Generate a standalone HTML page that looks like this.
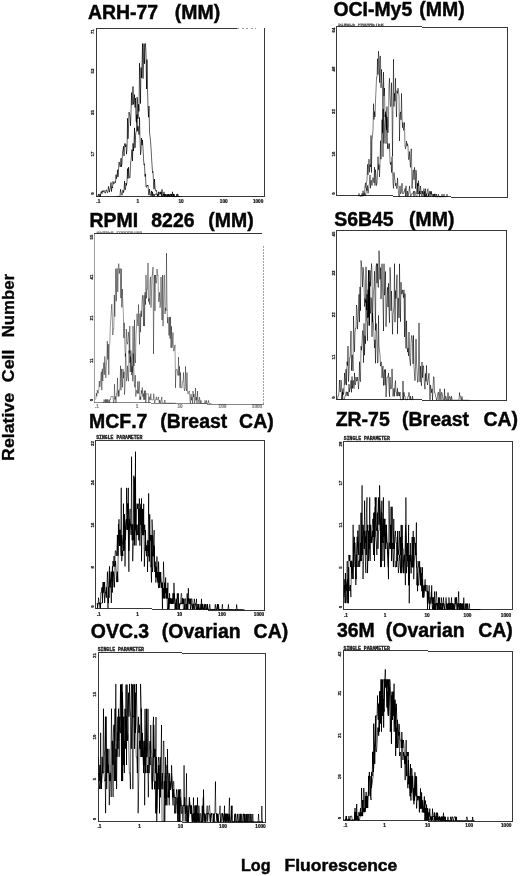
<!DOCTYPE html>
<html lang="en"><head><meta charset="utf-8"><title>Flow cytometry histograms</title>
<style>
html,body{margin:0;padding:0;background:#fff;}
body{width:520px;height:876px;overflow:hidden;}
svg{display:block;}
text{white-space:pre;font-kerning:none;}
</style></head><body>
<svg width="520" height="876" viewBox="0 0 520 876">
<g id="frames" fill="none" shape-rendering="crispEdges">
<path d="M96.5,28.0V197.0" stroke="#383838" stroke-width="1" opacity="1"/>
<path d="M264.5,28.0V197.0" stroke="#383838" stroke-width="1" opacity="1"/>
<path d="M96.0,28.5H237.0" stroke="#383838" stroke-width="1" opacity="1"/>
<path d="M96.0,196.5H265.0" stroke="#383838" stroke-width="1" opacity="1"/>
<path d="M237,28.5H256" stroke="#555" stroke-width="1" stroke-dasharray="2 2.5" opacity="0.6"/>
<path d="M336.5,26.0V196.0" stroke="#383838" stroke-width="1" opacity="1"/>
<path d="M507.5,27.0V198.0" stroke="#383838" stroke-width="1" opacity="1"/>
<path d="M336.0,26.5H422.0M422.0,27.5H508.0" stroke="#383838" stroke-width="1" opacity="1"/>
<path d="M336.0,195.5H393.3M393.3,196.5H450.7M450.7,197.5H508.0" stroke="#383838" stroke-width="1" opacity="1"/>
<path d="M94.5,233.0V403.0" stroke="#888" stroke-width="1" opacity="0.8"/>
<path d="M263.5,246.0V405.0" stroke="#888" stroke-width="1" opacity="0.8" stroke-dasharray="1.5 1.5"/>
<path d="M94.0,233.5H262.0" stroke="#333" stroke-width="1" opacity="1"/>
<path d="M94.0,402.5H150.7M150.7,403.5H207.3M207.3,404.5H264.0" stroke="#777" stroke-width="1" opacity="0.9"/>
<path d="M336.5,230.0V400.0" stroke="#383838" stroke-width="1" opacity="1"/>
<path d="M506.5,230.0V401.0" stroke="#383838" stroke-width="1" opacity="1"/>
<path d="M336.0,230.5H507.0" stroke="#383838" stroke-width="1" opacity="1"/>
<path d="M336.0,399.5H421.5M421.5,400.5H507.0" stroke="#383838" stroke-width="1" opacity="1"/>
<path d="M95.5,440.0V609.0" stroke="#383838" stroke-width="1" opacity="1"/>
<path d="M264.5,440.0V611.0" stroke="#383838" stroke-width="1" opacity="1"/>
<path d="M95.0,440.5H265.0" stroke="#383838" stroke-width="1" opacity="1"/>
<path d="M95.0,608.5H151.7M151.7,609.5H208.3M208.3,610.5H265.0" stroke="#383838" stroke-width="1" opacity="1"/>
<path d="M343.5,441.0V610.0" stroke="#383838" stroke-width="1" opacity="1"/>
<path d="M512.5,441.0V610.0" stroke="#383838" stroke-width="1" opacity="1"/>
<path d="M343.0,441.5H513.0" stroke="#383838" stroke-width="1" opacity="1"/>
<path d="M343.0,609.5H513.0" stroke="#383838" stroke-width="1" opacity="1"/>
<path d="M98.5,652.0V822.0" stroke="#383838" stroke-width="1" opacity="1"/>
<path d="M265.5,653.0V823.0" stroke="#383838" stroke-width="1" opacity="1"/>
<path d="M98.0,652.5H182.0M182.0,653.5H266.0" stroke="#383838" stroke-width="1" opacity="1"/>
<path d="M98.0,821.5H182.0M182.0,822.5H266.0" stroke="#383838" stroke-width="1" opacity="1"/>
<path d="M343.5,650.0V821.0" stroke="#383838" stroke-width="1" opacity="1"/>
<path d="M512.5,651.0V822.0" stroke="#383838" stroke-width="1" opacity="1"/>
<path d="M343.0,650.5H428.0M428.0,651.5H513.0" stroke="#383838" stroke-width="1" opacity="1"/>
<path d="M343.0,820.5H428.0M428.0,821.5H513.0" stroke="#383838" stroke-width="1" opacity="1"/>
</g>
<filter id="ctA" x="0" y="0" width="100%" height="100%" filterUnits="userSpaceOnUse"><feComponentTransfer><feFuncA type="linear" slope="1.25" intercept="-0.03"/></feComponentTransfer></filter>
<filter id="ct" x="0" y="0" width="100%" height="100%" filterUnits="userSpaceOnUse"><feComponentTransfer><feFuncA type="linear" slope="1.9" intercept="-0.06"/></feComponentTransfer></filter>
<g id="histsA" fill="none" stroke-linejoin="miter" filter="url(#ctA)">
<path d="M97.00,196.3L97.50,196.3L98.00,196.3L98.50,193.9L99.00,196.3L99.50,196.3L100.00,193.9L100.50,196.3L101.00,191.6L101.50,191.6L102.00,193.7L102.50,190.6L103.00,192.0L103.50,191.9L104.00,190.3L104.50,191.8L105.00,193.2L105.50,193.1L106.00,190.0L106.50,189.9L107.00,191.3L107.50,192.8L108.00,191.2L108.50,186.4L109.00,189.3L109.50,192.2L110.00,188.9L110.50,187.2L111.00,182.4L111.50,191.5L112.00,186.7L112.50,187.9L113.00,181.4L113.50,184.1L114.00,183.8L114.50,183.4L115.00,181.5L115.50,182.7L116.00,174.7L116.50,178.7L117.00,176.5L117.50,169.8L118.00,176.9L118.50,170.2L119.00,161.9L119.50,162.9L120.00,167.0L120.50,166.5L121.00,158.2L121.50,166.9L122.00,163.3L122.50,152.0L123.00,149.9L123.50,146.3L124.00,156.1L124.50,144.3L125.00,143.3L125.50,146.9L126.00,144.4L126.50,154.2L127.00,148.6L127.50,118.3L128.00,138.8L128.50,128.5L129.00,112.1L129.50,114.1L130.00,116.1L130.50,125.8L131.00,112.5L131.50,92.6L132.00,105.1L132.50,100.6L133.00,86.4L133.50,104.4L134.00,101.8L134.50,94.6L135.00,107.5L135.50,98.1L136.00,121.0L136.50,122.4L137.00,114.6L137.50,131.2L138.00,126.2L138.50,130.4L139.00,134.7L139.50,117.4L140.00,138.5L140.50,154.8L141.00,151.1L141.50,138.1L142.00,145.1L142.50,139.9L143.00,148.4L143.50,158.5L144.00,164.9L144.50,163.8L145.00,176.5L145.50,173.9L146.00,186.6L146.50,187.4L147.00,185.1L147.50,185.9L148.00,185.1L148.50,193.5L149.00,195.2L149.50,189.1L150.00,193.8L150.50,195.4L151.00,195.4L151.50,190.9L152.00,196.5L152.50,191.8L153.00,196.5L153.50,194.1L154.00,194.1L154.50,196.5L155.00,194.1L155.50,194.1L156.00,194.1L156.50,194.1L157.00,194.2L157.50,196.5L158.00,194.2L158.50,194.2L159.00,196.5L159.50,196.5L160.00,196.5L160.50,196.5L161.00,196.5L161.50,196.5L162.00,196.5L162.50,196.5L163.00,196.5L163.50,194.2L164.00,194.2L164.50,196.5L165.00,196.5L165.50,194.2L166.00,194.2L166.50,196.6L167.00,196.6L167.50,196.6L168.00,196.6L168.50,194.2L169.00,196.6L169.50,196.6L170.00,194.2L170.50,194.2L171.00,194.2L171.50,196.6L172.00,196.6L172.50,196.6L173.00,196.6L173.50,196.6L174.00,194.2L174.50,196.6L175.00,196.6L175.50,196.6L176.00,196.6L176.50,196.6L177.00,194.2L177.50,194.2L178.00,194.2L178.50,196.6L179.00,196.6L179.50,196.6" stroke="#000" stroke-width="0.55" opacity="1"/>
<path d="M116.00,196.4L116.50,196.4L117.00,196.4L117.50,196.4L118.00,196.4L118.50,196.4L119.00,196.4L119.50,196.4L120.00,196.4L120.50,189.3L121.00,191.7L121.50,194.0L122.00,195.3L122.50,193.4L123.00,189.9L123.50,192.6L124.00,190.7L124.50,181.1L125.00,189.9L125.50,189.5L126.00,183.0L126.50,185.4L127.00,181.6L127.50,168.6L128.00,178.6L128.50,167.2L129.00,175.7L129.50,178.1L130.00,177.4L130.50,164.3L131.00,160.4L131.50,155.0L132.00,149.5L132.50,161.0L133.00,143.3L133.50,151.0L134.00,143.3L134.50,127.9L135.00,147.9L135.50,135.6L136.00,132.5L136.50,131.0L137.00,97.1L137.50,98.7L138.00,118.7L138.50,104.3L139.00,111.4L139.50,63.2L140.00,79.5L140.50,103.6L141.00,67.6L141.50,77.8L142.00,63.4L142.50,43.5L143.00,78.6L143.50,57.5L144.00,43.5L144.50,63.8L145.00,45.1L145.50,43.5L146.00,52.4L146.50,89.0L147.00,59.5L147.50,85.4L148.00,108.2L148.50,117.2L149.00,106.1L149.50,131.9L150.00,136.2L150.50,140.5L151.00,147.8L151.50,156.4L152.00,164.5L152.50,172.6L153.00,171.5L153.50,182.7L154.00,189.2L154.50,179.0L155.00,187.2L155.50,190.8L156.00,191.3L156.50,190.3L157.00,193.9L157.50,195.5L158.00,196.5L158.50,191.8L159.00,194.2L159.50,194.2L160.00,191.8L160.50,194.2L161.00,191.8L161.50,196.5L162.00,189.4L162.50,196.5L163.00,196.5L163.50,196.5L164.00,191.8L164.50,196.5L165.00,194.2L165.50,196.5L166.00,196.5L166.50,196.6L167.00,194.2L167.50,196.6L168.00,194.2L168.50,196.6L169.00,196.6L169.50,196.6L170.00,194.2L170.50,196.6L171.00,196.6L171.50,194.2L172.00,196.6L172.50,191.8L173.00,196.6L173.50,194.2L174.00,194.2L174.50,196.6L175.00,196.6L175.50,196.6L176.00,196.6L176.50,196.6L177.00,194.2L177.50,196.6L178.00,196.6L178.50,196.6L179.00,196.6L179.50,196.6L180.00,196.6L180.50,196.6L181.00,196.6L181.50,196.6" stroke="#000" stroke-width="0.55" opacity="1"/>
<path d="M358.00,196.0L358.50,196.0L359.00,193.4L359.50,196.0L360.00,196.0L360.50,196.0L361.00,196.0L361.50,196.0L362.00,193.4L362.50,196.0L363.00,190.7L363.50,193.4L364.00,196.0L364.50,193.4L365.00,185.5L365.50,182.8L366.00,188.1L366.50,182.9L367.00,180.2L367.50,164.4L368.00,174.9L368.50,167.0L369.00,159.1L369.50,172.3L370.00,164.4L370.50,167.0L371.00,135.4L371.50,172.6L372.00,140.7L372.50,135.4L373.00,130.1L373.50,103.7L374.00,119.5L374.50,111.6L375.00,116.9L375.50,101.1L376.00,90.5L376.50,77.3L377.00,77.3L377.50,58.8L378.00,74.7L378.50,51.2L379.00,58.9L379.50,82.6L380.00,56.2L380.50,56.2L381.00,87.9L381.50,69.4L382.00,82.7L382.50,87.9L383.00,156.8L383.50,72.1L384.00,95.9L384.50,88.0L385.00,117.0L385.50,111.7L386.00,143.7L386.50,114.4L387.00,106.5L387.50,148.7L388.00,143.4L388.50,148.7L389.00,148.7L389.50,143.5L390.00,161.9L390.50,164.6L391.00,161.9L391.50,172.5L392.00,156.7L392.50,167.2L393.00,183.1L393.50,188.4L394.00,172.5L394.50,177.8L395.00,180.5L395.50,185.8L396.00,183.1L396.50,188.4L397.00,188.4L397.50,177.9L398.00,185.8L398.50,193.7L399.00,196.3L399.50,196.4L400.00,185.8L400.50,193.7L401.00,193.7L401.50,191.1L402.00,183.2L402.50,193.7L403.00,193.7L403.50,193.7L404.00,191.1L404.50,191.1L405.00,188.5L405.50,196.4L406.00,185.8L406.50,193.8L407.00,196.4L407.50,191.1L408.00,196.4L408.50,193.8L409.00,191.2L409.50,185.9L410.00,191.2L410.50,196.4L411.00,196.5L411.50,193.8L412.00,193.8L412.50,193.8L413.00,193.8L413.50,191.2L414.00,196.5L414.50,191.2L415.00,191.2L415.50,193.9L416.00,196.5L416.50,196.5L417.00,196.5L417.50,188.6L418.00,183.3L418.50,193.9L419.00,193.9L419.50,191.2L420.00,193.9L420.50,193.9L421.00,191.3L421.50,193.9L422.00,196.6L422.50,191.3L423.00,193.9L423.50,191.3L424.00,188.6L424.50,196.6L425.00,193.9L425.50,196.6L426.00,196.6L426.50,193.9L427.00,196.6L427.50,196.6L428.00,196.6L428.50,194.0L429.00,194.0L429.50,191.3L430.00,194.0L430.50,194.0L431.00,191.3L431.50,194.0L432.00,196.6L432.50,196.6L433.00,196.6L433.50,194.0L434.00,196.7L434.50,194.0L435.00,196.7L435.50,196.7L436.00,196.7L436.50,196.7L437.00,196.7L437.50,196.7L438.00,196.7L438.50,196.7L439.00,196.7L439.50,196.7L440.00,196.7L440.50,196.7L441.00,196.7L441.50,196.7L442.00,196.7L442.50,196.7L443.00,196.7L443.50,196.7L444.00,196.7L444.50,196.7" stroke="#000" stroke-width="0.46" opacity="1"/>
<path d="M360.00,196.0L360.50,196.0L361.00,196.0L361.50,196.0L362.00,196.0L362.50,196.0L363.00,196.0L363.50,196.0L364.00,193.4L364.50,193.4L365.00,193.4L365.50,196.1L366.00,193.4L366.50,188.1L367.00,190.8L367.50,185.5L368.00,193.4L368.50,190.8L369.00,185.5L369.50,182.9L370.00,175.0L370.50,188.2L371.00,180.3L371.50,180.3L372.00,185.5L372.50,180.3L373.00,177.6L373.50,180.3L374.00,182.9L374.50,167.1L375.00,185.6L375.50,169.7L376.00,175.0L376.50,185.6L377.00,183.0L377.50,175.0L378.00,156.6L378.50,169.8L379.00,164.5L379.50,176.9L380.00,164.5L380.50,140.7L381.00,159.2L381.50,135.5L382.00,119.6L382.50,132.8L383.00,109.1L383.50,109.1L384.00,143.4L384.50,127.6L385.00,119.6L385.50,114.4L386.00,114.4L386.50,130.2L387.00,117.0L387.50,127.6L388.00,132.9L388.50,125.0L389.00,85.4L389.50,78.3L390.00,95.9L390.50,106.5L391.00,106.5L391.50,82.7L392.00,109.1L392.50,156.5L393.00,109.2L393.50,59.3L394.00,106.5L394.50,93.3L395.00,101.2L395.50,78.3L396.00,101.3L396.50,117.1L397.00,90.7L397.50,93.4L398.00,88.1L398.50,90.7L399.00,96.0L399.50,140.9L400.00,114.5L400.50,111.9L401.00,119.8L401.50,93.4L402.00,117.2L402.50,127.7L403.00,122.4L403.50,130.4L404.00,127.7L404.50,122.5L405.00,146.2L405.50,148.9L406.00,146.2L406.50,141.0L407.00,146.2L407.50,143.6L408.00,146.3L408.50,159.5L409.00,159.5L409.50,151.5L410.00,162.1L410.50,167.4L411.00,148.9L411.50,148.9L412.00,188.5L412.50,180.6L413.00,170.1L413.50,170.1L414.00,179.8L414.50,167.4L415.00,172.7L415.50,188.6L416.00,170.1L416.50,175.4L417.00,193.9L417.50,183.3L418.00,186.0L418.50,180.7L419.00,186.0L419.50,196.5L420.00,191.3L420.50,186.0L421.00,191.3L421.50,191.3L422.00,191.3L422.50,191.3L423.00,193.9L423.50,193.9L424.00,196.6L424.50,191.3L425.00,193.9L425.50,188.7L426.00,196.6L426.50,193.9L427.00,194.0L427.50,189.6L428.00,188.7L428.50,196.6L429.00,194.0L429.50,194.0L430.00,196.6L430.50,196.6L431.00,191.3L431.50,194.0L432.00,194.0L432.50,194.0L433.00,196.6L433.50,196.7L434.00,196.7L434.50,194.0L435.00,194.0L435.50,194.0L436.00,196.7L436.50,194.0L437.00,196.7L437.50,196.7L438.00,196.7L438.50,194.1L439.00,196.7L439.50,196.7L440.00,196.7L440.50,196.7L441.00,196.7L441.50,196.7L442.00,194.1L442.50,196.7L443.00,196.7L443.50,196.7L444.00,194.1L444.50,196.7L445.00,196.8L445.50,196.8L446.00,196.8L446.50,196.8L447.00,194.1L447.50,196.8" stroke="#000" stroke-width="0.46" opacity="1"/>
<path d="M95.30,399.3L95.80,399.3L96.30,393.2L96.80,396.3L97.30,390.1L97.80,393.2L98.30,393.2L98.80,390.1L99.30,380.9L99.80,387.1L100.30,384.0L100.80,377.9L101.30,371.7L101.80,390.2L102.30,368.7L102.80,381.0L103.30,371.8L103.80,362.5L104.30,374.8L104.80,356.4L105.30,365.6L105.80,377.9L106.30,365.6L106.80,359.5L107.30,341.1L107.80,359.5L108.30,344.1L108.80,374.9L109.30,347.2L109.80,344.2L110.30,325.7L110.80,319.6L111.30,310.4L111.80,304.2L112.30,316.5L112.80,335.0L113.30,328.8L113.80,328.8L114.30,295.0L114.80,316.6L115.30,295.0L115.80,268.6L116.30,301.2L116.80,268.6L117.30,268.6L117.80,292.0L118.30,268.6L118.80,263.6L119.30,273.6L119.80,268.6L120.30,268.6L120.80,298.2L121.30,268.7L121.80,307.4L122.30,289.0L122.80,301.3L123.30,313.6L123.80,338.1L124.30,322.8L124.80,344.3L125.30,356.6L125.80,353.5L126.30,329.0L126.80,341.2L127.30,344.3L127.80,341.3L128.30,332.0L128.80,338.2L129.30,353.6L129.80,325.9L130.30,372.0L130.80,350.5L131.30,353.6L131.80,372.0L132.30,365.9L132.80,381.3L133.30,353.6L133.80,365.9L134.30,384.3L134.80,387.4L135.30,375.1L135.80,396.6L136.30,390.5L136.80,390.5L137.30,393.6L137.80,381.3L138.30,393.6L138.80,387.5L139.30,381.3L139.80,399.8L140.30,396.7L140.80,399.8L141.30,390.5L141.80,393.6L142.30,387.5L142.80,396.7L143.30,393.6L143.80,399.8L144.30,390.6L144.80,399.8L145.30,390.6L145.80,402.9L146.30,393.7L146.80,393.7L147.30,393.7L147.80,393.7L148.30,393.7L148.80,402.9L149.30,396.8L149.80,399.8L150.30,399.9L150.80,393.7L151.30,399.9L151.80,399.9L152.30,399.9L152.80,399.9L153.30,399.9L153.80,393.7L154.30,399.9L154.80,403.0L155.30,399.9L155.80,399.9L156.30,396.8L156.80,399.9L157.30,399.9L157.80,399.9L158.30,396.9L158.80,399.9L159.30,403.0L159.80,399.9L160.30,403.0L160.80,403.0L161.30,400.0L161.80,396.9L162.30,403.0L162.80,403.0L163.30,403.0L163.80,403.1L164.30,403.1L164.80,400.0L165.30,403.1L165.80,403.1L166.30,403.1L166.80,403.1L167.30,403.1L167.80,403.1L168.30,403.1L168.80,403.1L169.30,403.1L169.80,403.1L170.30,403.1L170.80,403.1L171.30,403.1L171.80,403.1L172.30,403.1L172.80,403.1L173.30,403.1L173.80,403.1L174.30,403.2L174.80,403.2L175.30,403.2L175.80,403.2" stroke="#111" stroke-width="0.42" opacity="0.9"/>
<path d="M103.00,402.5L103.50,402.5L104.00,399.4L104.50,400.3L105.00,402.5L105.50,399.4L106.00,402.5L106.50,399.4L107.00,402.5L107.50,399.4L108.00,402.5L108.50,402.5L109.00,399.5L109.50,402.5L110.00,399.5L110.50,399.5L111.00,396.4L111.50,396.4L112.00,396.4L112.50,396.4L113.00,396.4L113.50,402.6L114.00,402.6L114.50,384.2L115.00,399.5L115.50,396.5L116.00,402.6L116.50,393.4L117.00,393.4L117.50,378.0L118.00,396.5L118.50,390.3L119.00,396.5L119.50,390.3L120.00,387.3L120.50,365.8L121.00,390.4L121.50,368.9L122.00,378.1L122.50,387.3L123.00,368.9L123.50,378.1L124.00,371.9L124.50,394.6L125.00,387.3L125.50,353.5L126.00,356.6L126.50,381.2L127.00,378.1L127.50,365.8L128.00,378.1L128.50,381.2L129.00,350.5L129.50,359.7L130.00,362.8L130.50,356.6L131.00,362.8L131.50,375.1L132.00,372.0L132.50,356.7L133.00,325.9L133.50,347.5L134.00,365.9L134.50,319.8L135.00,359.8L135.50,362.8L136.00,335.2L136.50,326.0L137.00,313.7L137.50,319.8L138.00,326.0L138.50,304.5L139.00,326.0L139.50,344.4L140.00,313.7L140.50,332.2L141.00,310.7L141.50,316.8L142.00,301.4L142.50,295.3L143.00,307.6L143.50,326.0L144.00,295.3L144.50,326.1L145.00,292.3L145.50,304.6L146.00,274.9L146.50,298.4L147.00,289.2L147.50,289.2L148.00,262.9L148.50,301.5L149.00,298.4L149.50,304.6L150.00,280.0L150.50,276.9L151.00,307.7L151.50,292.3L152.00,274.9L152.50,274.9L153.00,267.0L153.50,353.8L154.00,301.6L154.50,275.0L155.00,310.8L155.50,275.0L156.00,283.1L156.50,283.1L157.00,269.0L157.50,275.0L158.00,275.0L158.50,301.6L159.00,301.6L159.50,292.4L160.00,307.8L160.50,304.7L161.00,277.0L161.50,298.6L162.00,320.1L162.50,275.0L163.00,326.2L163.50,307.8L164.00,275.1L164.50,275.1L165.00,314.0L165.50,307.8L166.00,310.9L166.50,253.1L167.00,301.7L167.50,323.2L168.00,317.1L168.50,323.2L169.00,335.5L169.50,317.1L170.00,338.6L170.50,317.1L171.00,347.8L171.50,326.3L172.00,347.8L172.50,341.7L173.00,332.5L173.50,350.9L174.00,350.9L174.50,347.8L175.00,344.8L175.50,387.8L176.00,369.4L176.50,369.4L177.00,369.4L177.50,372.5L178.00,375.5L178.50,357.1L179.00,375.5L179.50,366.3L180.00,387.8L180.50,372.5L181.00,387.9L181.50,387.9L182.00,387.9L182.50,381.7L183.00,381.7L183.50,372.5L184.00,387.9L184.50,391.0L185.00,387.9L185.50,366.4L186.00,387.9L186.50,391.0L187.00,372.5L187.50,391.0L188.00,394.1L188.50,392.5L189.00,391.0L189.50,391.0L190.00,401.3L190.50,403.3L191.00,394.1L191.50,400.2L192.00,397.2L192.50,403.3L193.00,391.0L193.50,397.2L194.00,394.1L194.50,403.3L195.00,400.3L195.50,388.0L196.00,400.3L196.50,397.2L197.00,403.4L197.50,391.1L198.00,400.3L198.50,400.3L199.00,403.4L199.50,397.2L200.00,400.3L200.50,403.4L201.00,400.3L201.50,403.4L202.00,403.4L202.50,403.4L203.00,403.4L203.50,403.4L204.00,403.4L204.50,403.4L205.00,400.4L205.50,403.4L206.00,403.5L206.50,400.4L207.00,403.5L207.50,403.5L208.00,403.5L208.50,400.4L209.00,403.5L209.50,403.5L210.00,403.5L210.50,403.5L211.00,403.5L211.50,403.5" stroke="#111" stroke-width="0.42" opacity="0.9"/>
<path d="M337.00,399.4L337.50,399.4L338.00,395.7L338.50,395.7L339.00,391.8L339.50,380.0L340.00,391.9L340.50,391.9L341.00,380.1L341.50,384.1L342.00,399.4L342.50,392.2L343.00,388.4L343.50,394.7L344.00,391.7L344.50,372.9L345.00,384.8L345.50,380.9L346.00,369.2L346.50,385.1L347.00,361.6L347.50,365.6L348.00,346.0L348.50,381.6L349.00,373.8L349.50,358.2L350.00,358.3L350.50,346.6L351.00,331.0L351.50,370.6L352.00,355.0L352.50,355.1L353.00,371.1L353.50,316.0L354.00,335.9L354.50,351.8L355.00,332.2L355.50,328.4L356.00,328.6L356.50,305.0L357.00,309.1L357.50,329.1L358.00,321.4L358.50,309.9L359.00,294.3L359.50,322.1L360.00,286.8L360.50,310.7L361.00,260.5L361.50,263.5L362.00,271.4L362.50,287.1L363.00,267.3L363.50,271.2L364.00,282.9L364.50,306.5L365.00,298.5L365.50,302.4L366.00,266.8L366.50,310.1L367.00,294.2L367.50,317.8L368.00,290.1L368.50,270.3L369.00,325.5L369.50,282.0L370.00,309.5L370.50,313.4L371.00,297.5L371.50,301.4L372.00,336.8L372.50,313.0L373.00,320.7L373.50,324.5L374.00,336.2L374.50,347.9L375.00,339.8L375.50,363.3L376.00,323.8L376.50,323.7L377.00,339.3L377.50,362.9L378.00,362.8L378.50,315.4L379.00,346.8L379.50,350.7L380.00,354.5L380.50,366.2L381.00,362.2L381.50,362.2L382.00,377.9L382.50,369.9L383.00,365.9L383.50,385.5L384.00,372.4L384.50,369.6L385.00,385.3L385.50,369.5L386.00,397.0L386.50,389.1L387.00,377.2L387.50,377.1L388.00,377.1L388.50,373.1L389.00,388.8L389.50,396.6L390.00,376.9L390.50,388.7L391.00,388.6L391.50,388.6L392.00,368.8L392.50,380.6L393.00,396.4L393.50,392.4L394.00,388.4L394.50,396.3L395.00,384.4L395.50,380.5L396.00,392.3L396.50,392.3L397.00,396.2L397.50,388.3L398.00,396.1L398.50,392.2L399.00,392.2L399.50,396.1L400.00,392.1L400.50,399.8L401.00,399.8L401.50,399.8L402.00,399.8L402.50,399.8L403.00,381.0L403.50,399.8L404.00,392.3L404.50,396.0L405.00,396.0L405.50,399.8L406.00,399.8L406.50,399.8L407.00,399.8L407.50,399.8L408.00,396.1L408.50,396.1L409.00,392.3L409.50,396.1L410.00,399.8L410.50,396.1L411.00,399.8L411.50,399.8L412.00,399.8L412.50,396.1L413.00,399.8L413.50,399.9" stroke="#000" stroke-width="0.46" opacity="1"/>
<path d="M339.00,399.4L339.50,399.4L340.00,399.4L340.50,399.4L341.00,399.4L341.50,399.4L342.00,395.7L342.50,391.9L343.00,399.4L343.50,399.4L344.00,399.4L344.50,399.4L345.00,395.7L345.50,395.7L346.00,391.8L346.50,391.9L347.00,395.8L347.50,391.9L348.00,395.9L348.50,395.9L349.00,384.1L349.50,392.1L350.00,388.1L350.50,388.2L351.00,380.4L351.50,392.3L352.00,376.5L352.50,388.4L353.00,380.6L353.50,380.6L354.00,388.6L354.50,372.9L355.00,384.7L355.50,384.8L356.00,377.0L356.50,381.0L357.00,381.1L357.50,377.2L358.00,381.2L358.50,389.1L359.00,381.3L359.50,361.7L360.00,380.1L360.50,381.6L361.00,346.2L361.50,350.2L362.00,342.4L362.50,330.7L363.00,330.9L363.50,362.7L364.00,323.4L364.50,355.2L365.00,335.6L365.50,343.7L366.00,300.6L366.50,320.5L367.00,320.8L367.50,340.7L368.00,289.6L368.50,317.3L369.00,270.1L369.50,325.5L370.00,270.4L370.50,286.3L371.00,274.6L371.50,263.6L372.00,270.8L372.50,322.1L373.00,302.5L373.50,290.7L374.00,286.9L374.50,271.2L375.00,302.8L375.50,330.4L376.00,267.4L376.50,263.6L377.00,283.2L377.50,263.6L378.00,287.3L378.50,287.3L379.00,250.6L379.50,263.7L380.00,279.4L380.50,267.6L381.00,299.1L381.50,283.4L382.00,263.7L382.50,287.3L383.00,303.0L383.50,331.0L384.00,263.7L384.50,295.2L385.00,291.2L385.50,271.5L386.00,326.7L386.50,311.0L387.00,295.2L387.50,287.3L388.00,307.0L388.50,283.3L389.00,310.9L389.50,322.7L390.00,267.4L390.50,275.3L391.00,310.8L391.50,291.0L392.00,310.7L392.50,334.3L393.00,314.5L393.50,310.5L394.00,306.6L394.50,263.7L395.00,322.2L395.50,290.6L396.00,298.5L396.50,286.6L397.00,274.7L397.50,333.8L398.00,298.3L398.50,298.2L399.00,317.9L399.50,263.8L400.00,298.1L400.50,321.7L401.00,282.2L401.50,294.0L402.00,293.9L402.50,289.9L403.00,293.8L403.50,297.7L404.00,289.8L404.50,337.0L405.00,293.5L405.50,328.9L406.00,348.5L406.50,320.8L407.00,344.4L407.50,352.1L408.00,348.1L408.50,355.9L409.00,332.1L409.50,357.5L410.00,362.1L410.50,365.6L411.00,343.6L411.50,335.6L412.00,335.6L412.50,343.4L413.00,363.9L413.50,335.4L414.00,366.8L414.50,374.7L415.00,380.7L415.50,366.7L416.00,339.0L416.50,362.6L417.00,370.4L417.50,382.2L418.00,382.1L418.50,370.3L419.00,322.9L419.50,362.3L420.00,381.9L420.50,366.1L421.00,381.8L421.50,385.7L422.00,362.0L422.50,377.7L423.00,365.8L423.50,365.8L424.00,377.6L424.50,385.4L425.00,389.3L425.50,373.5L426.00,381.3L426.50,365.5L427.00,381.2L427.50,385.1L428.00,381.1L428.50,377.1L429.00,373.2L429.50,385.0L430.00,399.9L430.50,384.9L431.00,388.8L431.50,392.7L432.00,388.7L432.50,400.0L433.00,388.6L433.50,376.8L434.00,376.8L434.50,392.5L435.00,392.5L435.50,396.4L436.00,396.7L436.50,400.0L437.00,400.0L437.50,396.3L438.00,392.3L438.50,392.3L439.00,400.0L439.50,396.2L440.00,388.7L440.50,396.3L441.00,400.0L441.50,392.5L442.00,392.5L442.50,396.3L443.00,400.0L443.50,400.0L444.00,400.0L444.50,388.8L445.00,400.0L445.50,396.3L446.00,396.3L446.50,400.0L447.00,400.0L447.50,400.1L448.00,392.5L448.50,400.1L449.00,400.1L449.50,396.3L450.00,396.4L450.50,400.1L451.00,400.1L451.50,396.3L452.00,400.1L452.50,400.1L453.00,400.1L453.50,400.1L454.00,400.1L454.50,400.1L455.00,400.1L455.50,400.1L456.00,400.1L456.50,400.1L457.00,400.1L457.50,400.1L458.00,400.1L458.50,400.1L459.00,400.1L459.50,392.6L460.00,396.4L460.50,396.4L461.00,400.1L461.50,400.1L462.00,396.4L462.50,400.1L463.00,400.1L463.50,400.1L464.00,400.1L464.50,400.2L465.00,400.2L465.50,400.2L466.00,400.2L466.50,400.2L467.00,400.2L467.50,400.2L468.00,400.2L468.50,400.2L469.00,400.2L469.50,400.2" stroke="#000" stroke-width="0.46" opacity="1"/>
</g>
<g id="histsB" fill="none" stroke-linejoin="miter" filter="url(#ct)">
<path d="M96.40,608.2L96.95,608.2L97.50,608.2L98.05,603.0L98.60,597.7L99.15,603.0L99.70,603.0L100.25,608.2L100.80,592.5L101.35,592.5L101.90,587.3L102.45,603.0L103.00,587.3L103.55,582.0L104.10,587.3L104.65,582.0L105.20,592.5L105.75,592.6L106.30,597.8L106.85,587.3L107.40,571.6L107.95,587.3L108.50,603.1L109.05,571.6L109.60,566.3L110.15,587.4L110.70,582.1L111.25,571.6L111.80,582.1L112.35,592.6L112.90,561.1L113.45,566.4L114.00,555.9L114.55,566.4L115.10,566.4L115.65,561.2L116.20,571.7L116.75,582.2L117.30,571.7L117.85,582.2L118.40,524.4L118.95,534.9L119.50,545.5L120.05,529.7L120.60,550.7L121.15,556.0L121.70,535.0L122.25,540.2L122.80,545.5L123.35,550.7L123.90,524.5L124.45,529.8L125.00,566.5L125.55,540.3L126.10,524.5L126.65,487.8L127.20,529.8L127.75,514.0L128.30,487.8L128.85,550.8L129.40,519.3L129.95,524.6L130.50,524.6L131.05,535.1L131.60,456.6L132.15,540.3L132.70,524.6L133.25,540.3L133.80,475.6L134.35,545.6L134.90,514.1L135.45,451.6L136.00,545.6L136.55,508.9L137.10,503.6L137.65,508.9L138.20,503.7L138.75,540.4L139.30,498.4L139.85,508.9L140.40,508.9L140.95,524.7L141.50,498.4L142.05,529.9L142.60,535.2L143.15,514.2L143.70,535.2L144.25,530.0L144.80,524.7L145.35,535.2L145.90,551.0L146.45,545.7L147.00,551.0L147.55,540.5L148.10,540.5L148.65,556.3L149.20,556.3L149.75,514.3L150.30,540.5L150.85,535.3L151.40,566.8L151.95,535.3L152.50,572.1L153.05,566.8L153.60,540.6L154.15,530.1L154.70,566.8L155.25,561.6L155.80,577.3L156.35,566.8L156.90,577.4L157.45,572.1L158.00,582.6L158.55,587.9L159.10,572.1L159.65,582.6L160.20,572.1L160.75,582.6L161.30,587.9L161.85,582.7L162.40,608.9L162.95,587.9L163.50,561.7L164.05,577.4L164.60,598.4L165.15,598.4L165.70,577.4L166.25,598.5L166.80,588.0L167.35,598.5L167.90,582.7L168.45,609.0L169.00,603.7L169.55,598.5L170.10,598.5L170.65,598.5L171.20,603.8L171.75,603.8L172.30,603.8L172.85,593.3L173.40,598.5L173.95,582.8L174.50,593.3L175.05,609.0L175.60,603.8L176.15,603.8L176.70,609.1L177.25,593.3L177.80,598.6L178.35,593.3L178.90,609.1L179.45,609.1L180.00,603.8L180.55,603.9L181.10,593.4L181.65,593.4L182.20,603.9L182.75,598.6L183.30,603.9L183.85,598.6L184.40,609.1L184.95,598.6L185.50,598.7L186.05,609.2L186.60,609.2L187.15,593.4L187.70,609.2L188.25,598.7L188.80,598.7L189.35,603.9L189.90,598.7L190.45,609.2L191.00,604.0L191.55,598.7L192.10,598.7L192.65,609.2L193.20,604.0L193.75,604.0L194.30,598.7L194.85,604.0L195.40,604.0L195.95,604.0L196.50,598.8L197.05,609.3L197.60,609.3L198.15,609.3L198.70,604.0L199.25,609.3L199.80,609.3L200.35,609.3L200.90,609.3L201.45,598.8L202.00,609.3L202.55,604.1L203.10,609.3L203.65,609.3L204.20,609.4L204.75,609.4L205.30,609.4L205.85,609.4L206.40,609.4L206.95,609.4L207.50,604.1L208.05,609.4L208.60,609.4L209.15,609.4L209.70,609.4L210.25,609.4L210.80,609.4L211.35,609.4L211.90,609.4L212.45,609.4L213.00,609.4L213.55,609.5L214.10,609.5L214.65,609.5L215.20,609.5L215.75,609.5L216.30,609.5L216.85,609.5L217.40,604.2L217.95,609.5L218.50,604.3L219.05,609.5L219.60,609.5L220.15,609.5L220.70,609.5L221.25,609.5L221.80,609.5L222.35,604.3L222.90,609.6L223.45,609.6L224.00,609.6L224.55,609.6L225.10,609.6L225.65,609.6L226.20,609.6L226.75,609.6L227.30,609.6L227.85,609.6L228.40,604.4L228.95,609.6L229.50,609.6L230.05,609.6L230.60,609.6L231.15,609.6L231.70,609.6L232.25,609.7L232.80,609.7L233.35,609.7L233.90,609.7L234.45,609.7L235.00,609.7L235.55,609.7L236.10,609.7L236.65,609.7L237.20,609.7L237.75,609.7L238.30,609.7L238.85,609.7L239.40,609.7L239.95,609.7L240.50,609.7L241.05,609.7L241.60,609.8L242.15,609.8L242.70,609.8L243.25,609.8L243.80,609.8" stroke="#000" stroke-width="0.38" opacity="1"/>
<path d="M97.00,603.0L97.55,608.2L98.10,603.0L98.65,603.0L99.20,603.0L99.75,603.0L100.30,608.2L100.85,603.0L101.40,603.0L101.95,603.0L102.50,603.0L103.05,582.0L103.60,592.5L104.15,587.3L104.70,603.0L105.25,592.5L105.80,592.6L106.35,587.3L106.90,592.6L107.45,597.8L108.00,608.3L108.55,587.3L109.10,597.8L109.65,571.6L110.20,582.1L110.75,587.4L111.30,603.1L111.85,576.9L112.40,566.4L112.95,587.4L113.50,571.6L114.05,576.9L114.60,587.4L115.15,550.7L115.70,550.7L116.25,555.9L116.80,550.7L117.35,534.9L117.90,555.9L118.45,534.9L119.00,519.2L119.55,545.5L120.10,535.0L120.65,545.5L121.20,487.7L121.75,561.2L122.30,550.7L122.85,556.0L123.40,503.5L123.95,550.7L124.50,514.0L125.05,540.3L125.60,524.5L126.15,519.3L126.70,519.3L127.25,529.8L127.80,503.5L128.35,540.3L128.90,571.8L129.45,519.3L130.00,508.8L130.55,524.6L131.10,524.6L131.65,529.8L132.20,524.6L132.75,561.3L133.30,545.6L133.85,540.4L134.40,529.9L134.95,477.4L135.50,529.9L136.05,529.9L136.60,535.1L137.15,524.6L137.70,535.1L138.25,529.9L138.80,508.9L139.35,508.9L139.90,545.7L140.45,508.9L141.00,503.7L141.55,561.4L142.10,519.4L142.65,508.9L143.20,530.0L143.75,503.7L144.30,566.7L144.85,551.0L145.40,530.0L145.95,545.7L146.50,556.2L147.05,545.7L147.60,572.0L148.15,540.5L148.70,493.3L149.25,561.5L149.80,535.3L150.35,566.8L150.90,566.8L151.45,582.5L152.00,519.5L152.55,530.1L153.10,556.3L153.65,545.8L154.20,545.8L154.75,572.1L155.30,566.8L155.85,582.6L156.40,577.3L156.95,556.4L157.50,577.4L158.05,582.6L158.60,561.6L159.15,577.4L159.70,587.9L160.25,577.4L160.80,572.1L161.35,582.6L161.90,587.9L162.45,582.7L163.00,598.4L163.55,587.9L164.10,598.4L164.65,582.7L165.20,587.9L165.75,593.2L166.30,593.2L166.85,593.2L167.40,609.0L167.95,609.0L168.50,598.5L169.05,609.0L169.60,593.2L170.15,603.7L170.70,598.5L171.25,603.8L171.80,598.5L172.35,603.8L172.90,598.5L173.45,603.8L174.00,593.3L174.55,598.5L175.10,603.8L175.65,609.1L176.20,598.6L176.75,609.1L177.30,609.1L177.85,598.6L178.40,598.6L178.95,609.1L179.50,603.8L180.05,603.8L180.60,603.9L181.15,603.9L181.70,603.9L182.25,598.6L182.80,598.6L183.35,609.1L183.90,609.1L184.45,609.1L185.00,609.2L185.55,609.2L186.10,603.9L186.65,609.2L187.20,603.9L187.75,609.2L188.30,588.2L188.85,598.7L189.40,603.9L189.95,604.0L190.50,598.7L191.05,604.0L191.60,604.0L192.15,609.2L192.70,609.2L193.25,609.2L193.80,604.0L194.35,609.2L194.90,604.0L195.45,604.0L196.00,609.3L196.55,609.3L197.10,604.0L197.65,609.3L198.20,609.3L198.75,604.0L199.30,609.3L199.85,609.3L200.40,609.3L200.95,604.1L201.50,609.3L202.05,604.1L202.60,604.1L203.15,609.3L203.70,609.3L204.25,604.1L204.80,609.4L205.35,604.1L205.90,609.4L206.45,609.4L207.00,604.1L207.55,609.4L208.10,609.4L208.65,609.4L209.20,609.4L209.75,604.2L210.30,609.4L210.85,609.4L211.40,609.4L211.95,609.4L212.50,609.4L213.05,609.4L213.60,609.5L214.15,609.5L214.70,609.5L215.25,604.2L215.80,609.5L216.35,609.5L216.90,609.5L217.45,604.2L218.00,609.5L218.55,609.5L219.10,609.5L219.65,609.5L220.20,609.5L220.75,609.5L221.30,609.5L221.85,609.5L222.40,609.5L222.95,609.6L223.50,609.6L224.05,609.6L224.60,609.6L225.15,609.6L225.70,609.6L226.25,609.6L226.80,609.6L227.35,609.6L227.90,609.6L228.45,609.6L229.00,609.6L229.55,609.6L230.10,609.6L230.65,609.6L231.20,609.6L231.75,609.6L232.30,609.7L232.85,609.7L233.40,609.7L233.95,609.7L234.50,609.7L235.05,609.7L235.60,609.7L236.15,609.7L236.70,604.5L237.25,609.7L237.80,609.7L238.35,609.7L238.90,609.7L239.45,609.7L240.00,609.7L240.55,609.7L241.10,609.7L241.65,609.8L242.20,609.8L242.75,609.8L243.30,609.8L243.85,609.8L244.40,609.8L244.95,609.8" stroke="#000" stroke-width="0.38" opacity="1"/>
<path d="M343.90,597.1L344.45,585.1L345.00,603.2L345.55,579.0L346.10,585.1L346.65,591.1L347.20,560.9L347.75,603.2L348.30,603.2L348.85,554.9L349.40,560.9L349.95,554.9L350.50,567.0L351.05,560.9L351.60,573.0L352.15,579.0L352.70,567.0L353.25,579.1L353.80,548.9L354.35,536.8L354.90,567.0L355.45,567.0L356.00,579.1L356.55,548.9L357.10,536.8L357.65,542.8L358.20,567.0L358.75,561.0L359.30,561.0L359.85,561.0L360.40,561.0L360.95,512.7L361.50,554.9L362.05,485.3L362.60,554.9L363.15,524.8L363.70,536.8L364.25,548.9L364.80,530.8L365.35,561.0L365.90,573.1L366.45,512.7L367.00,497.3L367.55,573.1L368.10,555.0L368.65,530.8L369.20,548.9L369.75,497.3L370.30,542.9L370.85,536.9L371.40,542.9L371.95,542.9L372.50,530.8L373.05,542.9L373.60,555.0L374.15,512.7L374.70,536.9L375.25,506.7L375.80,536.9L376.35,542.9L376.90,555.0L377.45,512.7L378.00,548.9L378.55,530.8L379.10,530.8L379.65,485.3L380.20,506.7L380.75,567.1L381.30,524.8L381.85,500.7L382.40,542.9L382.95,561.0L383.50,542.9L384.05,518.8L384.60,567.1L385.15,536.9L385.70,549.0L386.25,524.8L386.80,542.9L387.35,542.9L387.90,561.0L388.45,579.2L389.00,500.7L389.55,524.8L390.10,549.0L390.65,524.8L391.20,549.0L391.75,543.0L392.30,543.0L392.85,555.0L393.40,567.1L393.95,543.0L394.50,549.0L395.05,567.1L395.60,567.1L396.15,561.1L396.70,567.1L397.25,536.9L397.80,555.0L398.35,573.1L398.90,567.1L399.45,555.0L400.00,561.1L400.55,573.2L401.10,524.9L401.65,567.1L402.20,524.9L402.75,549.0L403.30,549.0L403.85,573.2L404.40,561.1L404.95,549.0L405.50,524.9L406.05,537.0L406.60,573.2L407.15,549.0L407.70,561.1L408.25,555.1L408.80,585.3L409.35,555.1L409.90,561.1L410.45,555.1L411.00,555.1L411.55,567.2L412.10,537.0L412.65,567.2L413.20,530.9L413.75,579.2L414.30,561.1L414.85,555.1L415.40,543.0L415.95,555.1L416.50,567.2L417.05,567.2L417.60,591.3L418.15,561.1L418.70,567.2L419.25,567.2L419.80,573.2L420.35,585.3L420.90,567.2L421.45,585.3L422.00,579.3L422.55,597.4L423.10,585.3L423.65,597.4L424.20,591.3L424.75,585.3L425.30,585.3L425.85,585.3L426.40,591.3L426.95,591.3L427.50,609.4L428.05,591.3L428.60,597.4L429.15,585.3L429.70,603.4L430.25,603.4L430.80,603.4L431.35,591.4L431.90,603.4L432.45,609.5L433.00,597.4L433.55,603.4L434.10,609.5L434.65,591.4L435.20,609.5L435.75,603.4L436.30,591.4L436.85,597.4L437.40,609.5L437.95,603.4L438.50,603.4L439.05,597.4L439.60,609.5L440.15,603.5L440.70,609.5L441.25,597.4L441.80,603.5L442.35,609.5L442.90,603.5L443.45,597.4L444.00,603.5L444.55,609.5L445.10,609.5L445.65,609.5L446.20,609.5L446.75,603.5L447.30,609.5L447.85,603.5L448.40,609.5L448.95,597.4L449.50,603.5L450.05,603.5L450.60,603.5L451.15,609.5L451.70,603.5L452.25,603.5L452.80,609.5L453.35,609.5L453.90,609.5L454.45,609.5L455.00,597.5L455.55,603.5L456.10,597.5L456.65,597.5L457.20,609.5L457.75,603.5L458.30,603.5L458.85,609.5L459.40,609.5L459.95,603.5L460.50,609.5L461.05,603.5L461.60,609.6L462.15,603.5L462.70,609.6L463.25,609.6L463.80,597.5L464.35,609.6L464.90,609.6L465.45,609.6L466.00,609.6L466.55,603.5L467.10,609.6L467.65,609.6L468.20,609.6L468.75,609.6L469.30,603.5L469.85,609.6L470.40,609.6L470.95,609.6L471.50,609.6L472.05,609.6L472.60,609.6L473.15,609.6L473.70,609.6L474.25,609.6L474.80,609.6L475.35,609.6L475.90,609.6L476.45,609.6L477.00,609.6L477.55,609.6L478.10,609.6L478.65,609.6L479.20,609.6L479.75,609.6" stroke="#000" stroke-width="0.38" opacity="1"/>
<path d="M344.30,579.0L344.85,585.1L345.40,573.0L345.95,603.2L346.50,597.1L347.05,585.1L347.60,579.0L348.15,603.2L348.70,567.0L349.25,585.1L349.80,591.1L350.35,585.1L350.90,597.2L351.45,560.9L352.00,560.9L352.55,573.0L353.10,524.7L353.65,567.0L354.20,542.8L354.75,542.8L355.30,542.8L355.85,585.1L356.40,554.9L356.95,567.0L357.50,530.8L358.05,530.8L358.60,554.9L359.15,524.7L359.70,567.0L360.25,554.9L360.80,542.9L361.35,561.0L361.90,542.9L362.45,536.8L363.00,579.1L363.55,561.0L364.10,536.8L364.65,500.6L365.20,542.9L365.75,536.8L366.30,554.9L366.85,530.8L367.40,530.8L367.95,524.8L368.50,561.0L369.05,555.0L369.60,524.8L370.15,561.0L370.70,524.8L371.25,542.9L371.80,536.9L372.35,524.8L372.90,518.8L373.45,536.9L374.00,512.7L374.55,561.0L375.10,497.3L375.65,506.7L376.20,497.3L376.75,530.8L377.30,524.8L377.85,512.7L378.40,497.3L378.95,524.8L379.50,500.7L380.05,512.7L380.60,524.8L381.15,567.1L381.70,512.7L382.25,530.9L382.80,542.9L383.35,497.3L383.90,536.9L384.45,530.9L385.00,518.8L385.55,549.0L386.10,524.8L386.65,530.9L387.20,549.0L387.75,555.0L388.30,567.1L388.85,549.0L389.40,542.9L389.95,542.9L390.50,549.0L391.05,506.7L391.60,561.1L392.15,506.7L392.70,530.9L393.25,549.0L393.80,518.8L394.35,549.0L394.90,536.9L395.45,530.9L396.00,543.0L396.55,543.0L397.10,561.1L397.65,530.9L398.20,555.0L398.75,549.0L399.30,530.9L399.85,555.0L400.40,555.0L400.95,536.9L401.50,573.2L402.05,543.0L402.60,567.1L403.15,573.2L403.70,561.1L404.25,555.1L404.80,555.1L405.35,585.2L405.90,497.4L406.45,555.1L407.00,555.1L407.55,543.0L408.10,567.1L408.65,524.9L409.20,603.4L409.75,567.1L410.30,543.0L410.85,573.2L411.40,573.2L411.95,561.1L412.50,567.2L413.05,561.1L413.60,567.2L414.15,537.0L414.70,543.0L415.25,549.1L415.80,555.1L416.35,522.4L416.90,585.3L417.45,573.2L418.00,585.3L418.55,585.3L419.10,573.2L419.65,561.1L420.20,573.2L420.75,585.3L421.30,573.2L421.85,591.3L422.40,567.2L422.95,585.3L423.50,597.4L424.05,597.4L424.60,585.3L425.15,579.3L425.70,591.3L426.25,585.3L426.80,585.3L427.35,585.3L427.90,603.4L428.45,597.4L429.00,597.4L429.55,609.5L430.10,603.4L430.65,597.4L431.20,597.4L431.75,585.3L432.30,603.4L432.85,603.4L433.40,597.4L433.95,609.5L434.50,603.4L435.05,609.5L435.60,609.5L436.15,603.4L436.70,603.4L437.25,609.5L437.80,603.4L438.35,609.5L438.90,597.4L439.45,603.4L440.00,603.5L440.55,603.5L441.10,609.5L441.65,609.5L442.20,603.5L442.75,609.5L443.30,603.5L443.85,603.5L444.40,609.5L444.95,609.5L445.50,603.5L446.05,597.4L446.60,603.5L447.15,609.5L447.70,609.5L448.25,609.5L448.80,603.5L449.35,609.5L449.90,603.5L450.45,609.5L451.00,603.5L451.55,597.4L452.10,609.5L452.65,603.5L453.20,609.5L453.75,603.5L454.30,609.5L454.85,609.5L455.40,603.5L455.95,597.5L456.50,603.5L457.05,609.5L457.60,609.5L458.15,603.5L458.70,591.4L459.25,609.5L459.80,609.5L460.35,603.5L460.90,603.5L461.45,609.6L462.00,609.6L462.55,609.6L463.10,603.5L463.65,609.6L464.20,609.6L464.75,609.6L465.30,603.5L465.85,609.6L466.40,609.6L466.95,609.6L467.50,603.5L468.05,609.6L468.60,609.6L469.15,609.6L469.70,609.6L470.25,609.6L470.80,609.6L471.35,609.6L471.90,609.6L472.45,609.6L473.00,609.6L473.55,609.6L474.10,609.6L474.65,609.6L475.20,609.6L475.75,609.6L476.30,609.6L476.85,609.6L477.40,609.6L477.95,609.6L478.50,609.6L479.05,609.6L479.60,609.6L480.15,609.6L480.70,609.6" stroke="#000" stroke-width="0.38" opacity="1"/>
<path d="M98.50,756.8L99.05,781.0L99.60,789.0L100.15,781.0L100.70,732.7L101.25,789.0L101.80,781.0L102.35,772.9L102.90,764.9L103.45,708.6L104.00,772.9L104.55,781.0L105.10,781.0L105.65,813.2L106.20,716.6L106.75,789.1L107.30,748.8L107.85,773.0L108.40,773.0L108.95,748.8L109.50,781.0L110.05,773.0L110.60,773.0L111.15,797.1L111.70,764.9L112.25,740.8L112.80,764.9L113.35,732.7L113.90,724.7L114.45,781.0L115.00,708.6L115.55,781.0L116.10,748.9L116.65,789.1L117.20,740.8L117.75,716.7L118.30,740.8L118.85,724.7L119.40,724.7L119.95,716.7L120.50,684.5L121.05,724.7L121.60,781.1L122.15,683.8L122.70,781.1L123.25,740.8L123.80,716.7L124.35,773.0L124.90,708.7L125.45,740.9L126.00,684.5L126.55,765.0L127.10,684.5L127.65,716.7L128.20,732.8L128.75,740.9L129.30,773.1L129.85,773.1L130.40,789.2L130.95,724.8L131.50,683.9L132.05,683.9L132.60,716.7L133.15,716.7L133.70,716.8L134.25,716.8L134.80,683.9L135.35,732.9L135.90,724.8L136.45,683.9L137.00,716.8L137.55,732.9L138.10,813.3L138.65,789.2L139.20,749.0L139.75,740.9L140.30,740.9L140.85,757.0L141.40,708.7L141.95,757.0L142.50,732.9L143.05,749.0L143.60,773.1L144.15,740.9L144.70,805.3L145.25,749.0L145.80,773.1L146.35,708.8L146.90,757.1L147.45,749.0L148.00,708.8L148.55,749.0L149.10,773.2L149.65,757.1L150.20,765.1L150.75,724.9L151.30,749.0L151.85,757.1L152.40,789.3L152.95,724.9L153.50,716.8L154.05,765.1L154.60,789.3L155.15,781.2L155.70,813.4L156.25,757.1L156.80,821.5L157.35,781.2L157.90,765.2L158.45,757.1L159.00,765.2L159.55,813.4L160.10,757.1L160.65,789.3L161.20,789.3L161.75,781.3L162.30,773.2L162.85,789.3L163.40,741.0L163.95,741.0L164.50,821.5L165.05,821.5L165.60,757.1L166.15,797.4L166.70,765.2L167.25,765.2L167.80,773.2L168.35,773.3L168.90,797.4L169.45,773.3L170.00,789.4L170.55,789.4L171.10,781.3L171.65,765.2L172.20,781.3L172.75,797.4L173.30,781.3L173.85,781.3L174.40,797.4L174.95,797.4L175.50,797.4L176.05,797.4L176.60,789.4L177.15,797.4L177.70,821.6L178.25,789.4L178.80,821.6L179.35,789.4L179.90,821.6L180.45,797.5L181.00,805.5L181.55,813.6L182.10,813.6L182.65,805.5L183.20,805.5L183.75,805.5L184.30,805.5L184.85,797.5L185.40,813.6L185.95,805.5L186.50,773.3L187.05,821.6L187.60,813.6L188.15,821.6L188.70,813.6L189.25,797.5L189.80,805.5L190.35,805.5L190.90,813.6L191.45,805.6L192.00,813.6L192.55,821.7L193.10,813.6L193.65,821.7L194.20,813.6L194.75,821.7L195.30,805.6L195.85,821.7L196.40,805.6L196.95,821.7L197.50,797.5L198.05,821.7L198.60,813.6L199.15,821.7L199.70,821.7L200.25,813.6L200.80,813.6L201.35,821.7L201.90,821.7L202.45,821.7L203.00,813.7L203.55,789.5L204.10,813.7L204.65,813.7L205.20,821.7L205.75,821.7L206.30,821.7L206.85,813.7L207.40,813.7L207.95,813.7L208.50,813.7L209.05,805.6L209.60,805.6L210.15,813.7L210.70,821.7L211.25,813.7L211.80,813.7L212.35,821.7L212.90,821.7L213.45,821.8L214.00,813.7L214.55,821.8L215.10,821.8L215.65,821.8L216.20,821.8L216.75,813.7L217.30,821.8L217.85,813.7L218.40,821.8L218.95,813.7L219.50,813.7L220.05,805.7L220.60,821.8L221.15,813.7L221.70,813.7L222.25,813.7L222.80,813.7L223.35,821.8L223.90,821.8L224.45,805.7L225.00,821.8L225.55,813.8L226.10,813.8L226.65,821.8L227.20,813.8L227.75,821.8L228.30,821.8L228.85,813.8L229.40,797.7L229.95,821.8L230.50,821.8L231.05,821.8L231.60,813.8L232.15,805.7L232.70,821.8L233.25,821.8L233.80,821.8L234.35,821.9L234.90,813.8L235.45,821.9L236.00,821.9L236.55,821.9L237.10,821.9L237.65,821.9L238.20,821.9L238.75,821.9L239.30,821.9L239.85,821.9L240.40,813.8L240.95,821.9L241.50,821.9L242.05,821.9L242.60,821.9L243.15,821.9L243.70,821.9L244.25,813.9L244.80,821.9L245.35,821.9L245.90,821.9L246.45,813.9L247.00,821.9L247.55,821.9L248.10,821.9L248.65,813.9L249.20,821.9L249.75,813.9L250.30,813.9L250.85,821.9L251.40,821.9L251.95,821.9L252.50,821.9L253.05,821.9L253.60,821.9L254.15,821.9L254.70,821.9L255.25,822.0L255.80,822.0L256.35,822.0L256.90,822.0L257.45,822.0L258.00,822.0L258.55,813.9L259.10,822.0L259.65,822.0L260.20,822.0L260.75,822.0L261.30,822.0L261.85,805.9L262.40,822.0L262.95,822.0" stroke="#000" stroke-width="0.37" opacity="1"/>
<path d="M98.80,772.9L99.35,781.0L99.90,764.9L100.45,781.0L101.00,789.0L101.55,781.0L102.10,756.8L102.65,772.9L103.20,772.9L103.75,772.9L104.30,756.8L104.85,748.8L105.40,716.6L105.95,781.0L106.50,756.9L107.05,748.8L107.60,773.0L108.15,764.9L108.70,773.0L109.25,805.2L109.80,781.0L110.35,781.0L110.90,756.9L111.45,708.6L112.00,740.8L112.55,773.0L113.10,797.1L113.65,748.8L114.20,740.8L114.75,740.8L115.30,716.7L115.85,683.8L116.40,724.7L116.95,756.9L117.50,732.8L118.05,748.9L118.60,708.6L119.15,756.9L119.70,716.7L120.25,732.8L120.80,732.8L121.35,684.5L121.90,781.1L122.45,692.6L123.00,708.7L123.55,765.0L124.10,765.0L124.65,748.9L125.20,740.9L125.75,748.9L126.30,716.7L126.85,732.8L127.40,740.9L127.95,724.8L128.50,692.6L129.05,716.7L129.60,683.9L130.15,708.7L130.70,716.7L131.25,748.9L131.80,724.8L132.35,684.6L132.90,789.2L133.45,684.6L134.00,684.6L134.55,748.9L135.10,692.6L135.65,724.8L136.20,757.0L136.75,757.0L137.30,773.1L137.85,749.0L138.40,716.8L138.95,732.9L139.50,724.8L140.05,749.0L140.60,683.9L141.15,700.7L141.70,724.8L142.25,757.0L142.80,740.9L143.35,765.1L143.90,757.0L144.45,765.1L145.00,708.8L145.55,773.1L146.10,741.0L146.65,708.8L147.20,773.1L147.75,765.1L148.30,797.3L148.85,765.1L149.40,749.0L149.95,741.0L150.50,757.1L151.05,757.1L151.60,781.2L152.15,789.3L152.70,781.2L153.25,781.2L153.80,724.9L154.35,757.1L154.90,749.0L155.45,773.2L156.00,716.9L156.55,813.4L157.10,805.4L157.65,773.2L158.20,789.3L158.75,765.2L159.30,781.3L159.85,781.3L160.40,797.4L160.95,757.1L161.50,724.9L162.05,821.5L162.60,821.5L163.15,821.5L163.70,821.5L164.25,781.3L164.80,797.4L165.35,773.2L165.90,805.4L166.45,781.3L167.00,805.4L167.55,749.1L168.10,797.4L168.65,789.3L169.20,805.4L169.75,781.3L170.30,789.4L170.85,789.4L171.40,773.3L171.95,781.3L172.50,797.4L173.05,805.5L173.60,789.4L174.15,797.4L174.70,813.5L175.25,797.4L175.80,813.5L176.35,805.5L176.90,797.4L177.45,805.5L178.00,813.5L178.55,797.4L179.10,797.4L179.65,821.6L180.20,789.4L180.75,789.4L181.30,805.5L181.85,805.5L182.40,813.6L182.95,821.6L183.50,813.6L184.05,765.3L184.60,805.5L185.15,821.6L185.70,813.6L186.25,805.5L186.80,821.6L187.35,821.6L187.90,805.5L188.45,821.6L189.00,813.6L189.55,797.5L190.10,805.5L190.65,813.6L191.20,805.5L191.75,821.6L192.30,821.7L192.85,821.7L193.40,797.5L193.95,813.6L194.50,821.7L195.05,805.6L195.60,821.7L196.15,805.6L196.70,821.7L197.25,813.6L197.80,813.6L198.35,821.7L198.90,805.6L199.45,813.6L200.00,821.7L200.55,821.7L201.10,821.7L201.65,821.7L202.20,805.6L202.75,821.7L203.30,797.6L203.85,821.7L204.40,821.7L204.95,813.7L205.50,821.7L206.05,813.7L206.60,813.7L207.15,805.6L207.70,821.7L208.25,813.7L208.80,813.7L209.35,813.7L209.90,821.7L210.45,821.7L211.00,813.7L211.55,813.7L212.10,813.7L212.65,813.7L213.20,813.7L213.75,821.8L214.30,813.7L214.85,813.7L215.40,781.5L215.95,813.7L216.50,813.7L217.05,813.7L217.60,821.8L218.15,821.8L218.70,821.8L219.25,821.8L219.80,821.8L220.35,821.8L220.90,821.8L221.45,821.8L222.00,813.7L222.55,813.7L223.10,821.8L223.65,821.8L224.20,813.8L224.75,813.8L225.30,821.8L225.85,821.8L226.40,813.8L226.95,813.8L227.50,813.8L228.05,821.8L228.60,821.8L229.15,813.8L229.70,821.8L230.25,821.8L230.80,821.8L231.35,805.7L231.90,821.8L232.45,821.8L233.00,821.8L233.55,821.8L234.10,821.8L234.65,821.9L235.20,813.8L235.75,813.8L236.30,821.9L236.85,821.9L237.40,813.8L237.95,821.9L238.50,821.9L239.05,813.8L239.60,821.9L240.15,821.9L240.70,821.9L241.25,813.8L241.80,821.9L242.35,821.9L242.90,813.8L243.45,813.8L244.00,821.9L244.55,821.9L245.10,813.9L245.65,821.9L246.20,821.9L246.75,821.9L247.30,813.9L247.85,821.9L248.40,821.9L248.95,821.9L249.50,821.9L250.05,821.9L250.60,821.9L251.15,813.9L251.70,821.9L252.25,821.9L252.80,813.9L253.35,821.9L253.90,821.9L254.45,821.9L255.00,821.9L255.55,822.0L256.10,822.0L256.65,822.0L257.20,822.0L257.75,822.0L258.30,822.0L258.85,822.0L259.40,822.0L259.95,822.0L260.50,822.0L261.05,822.0L261.60,822.0L262.15,822.0L262.70,822.0L263.25,822.0" stroke="#000" stroke-width="0.37" opacity="1"/>
<path d="M344.00,820.0L344.55,820.0L345.10,820.0L345.65,820.0L346.20,816.0L346.75,820.0L347.30,820.0L347.85,820.0L348.40,820.0L348.95,816.0L349.50,820.0L350.05,820.0L350.60,816.0L351.15,816.0L351.70,816.0L352.25,820.1L352.80,820.1L353.35,820.1L353.90,820.1L354.45,820.1L355.00,808.0L355.55,816.1L356.10,812.0L356.65,820.1L357.20,816.1L357.75,816.1L358.30,820.1L358.85,812.1L359.40,816.1L359.95,812.1L360.50,808.1L361.05,816.1L361.60,787.9L362.15,808.1L362.70,816.1L363.25,808.1L363.80,788.0L364.35,796.0L364.90,812.1L365.45,800.0L366.00,796.0L366.55,804.1L367.10,800.1L367.65,796.0L368.20,796.0L368.75,779.9L369.30,771.9L369.85,780.0L370.40,796.0L370.95,775.9L371.50,788.0L372.05,784.0L372.60,780.0L373.15,776.0L373.70,723.6L374.25,751.8L374.80,763.9L375.35,747.8L375.90,739.8L376.45,715.6L377.00,715.6L377.55,695.5L378.10,719.7L378.65,703.6L379.20,731.7L379.75,691.5L380.30,723.7L380.85,703.6L381.40,719.7L381.95,679.4L382.50,715.7L383.05,699.6L383.60,707.6L384.15,711.6L384.70,679.5L385.25,669.3L385.80,679.3L386.35,679.5L386.90,707.6L387.45,679.3L388.00,691.6L388.55,715.7L389.10,703.6L389.65,687.5L390.20,731.8L390.75,723.8L391.30,711.7L391.85,695.6L392.40,707.7L392.95,711.7L393.50,715.7L394.05,683.6L394.60,723.8L395.15,699.7L395.70,756.0L396.25,703.7L396.80,715.8L397.35,743.9L397.90,748.0L398.45,743.9L399.00,723.8L399.55,727.9L400.10,739.9L400.65,739.9L401.20,748.0L401.75,739.9L402.30,739.9L402.85,748.0L403.40,740.0L403.95,744.0L404.50,760.1L405.05,764.1L405.60,760.1L406.15,740.0L406.70,776.2L407.25,752.1L407.80,756.1L408.35,752.1L408.90,784.3L409.45,776.2L410.00,796.3L410.55,764.1L411.10,792.3L411.65,792.3L412.20,776.2L412.75,792.3L413.30,800.4L413.85,788.3L414.40,800.4L414.95,772.2L415.50,792.3L416.05,796.4L416.60,776.3L417.15,796.4L417.70,796.4L418.25,796.4L418.80,796.4L419.35,812.5L419.90,796.4L420.45,808.5L421.00,808.5L421.55,796.4L422.10,808.5L422.65,800.4L423.20,808.5L423.75,812.5L424.30,796.4L424.85,820.6L425.40,808.5L425.95,820.6L426.50,812.5L427.05,820.6L427.60,808.5L428.15,820.6L428.70,812.6L429.25,816.6L429.80,808.5L430.35,816.6L430.90,820.6L431.45,820.6L432.00,816.6L432.55,808.6L433.10,820.6L433.65,820.6L434.20,820.6L434.75,812.6L435.30,820.7L435.85,816.6L436.40,816.6L436.95,820.7L437.50,816.6L438.05,816.7L438.60,820.7L439.15,816.7L439.70,816.7L440.25,820.7L440.80,820.7L441.35,816.7L441.90,820.7L442.45,820.7L443.00,816.7L443.55,812.7L444.10,820.7L444.65,816.7L445.20,820.7L445.75,820.7L446.30,820.7L446.85,820.7L447.40,820.7L447.95,816.7L448.50,820.7L449.05,820.8L449.60,820.8L450.15,820.8L450.70,816.7L451.25,820.8L451.80,820.8L452.35,820.8L452.90,820.8L453.45,820.8L454.00,816.8L454.55,816.8L455.10,816.8L455.65,820.8L456.20,816.8L456.75,820.8L457.30,820.8L457.85,820.8L458.40,820.8L458.95,820.8L459.50,820.8L460.05,820.8L460.60,820.8L461.15,820.8L461.70,820.8L462.25,820.8L462.80,820.9L463.35,820.9L463.90,820.9L464.45,820.9L465.00,820.9L465.55,820.9L466.10,820.9L466.65,816.9L467.20,816.9L467.75,820.9L468.30,820.9L468.85,820.9L469.40,820.9L469.95,820.9L470.50,820.9L471.05,820.9L471.60,820.9L472.15,820.9L472.70,816.9L473.25,820.9L473.80,820.9" stroke="#000" stroke-width="0.4" opacity="1"/>
<path d="M345.20,820.0L345.75,820.0L346.30,816.0L346.85,820.0L347.40,820.0L347.95,820.0L348.50,820.0L349.05,820.0L349.60,820.0L350.15,820.0L350.70,820.1L351.25,820.1L351.80,820.1L352.35,820.1L352.90,820.1L353.45,820.1L354.00,820.1L354.55,820.1L355.10,812.0L355.65,820.1L356.20,816.1L356.75,804.0L357.30,820.1L357.85,820.1L358.40,820.1L358.95,820.1L359.50,820.1L360.05,816.1L360.60,816.1L361.15,812.1L361.70,816.1L362.25,816.1L362.80,800.0L363.35,812.1L363.90,808.1L364.45,812.1L365.00,812.1L365.55,808.1L366.10,792.0L366.65,808.1L367.20,796.0L367.75,808.1L368.30,796.0L368.85,775.9L369.40,792.0L369.95,796.0L370.50,796.1L371.05,800.1L371.60,771.9L372.15,775.9L372.70,751.8L373.25,771.9L373.80,767.9L374.35,747.8L374.90,739.7L375.45,715.6L376.00,751.8L376.55,751.8L377.10,743.8L377.65,727.7L378.20,727.7L378.75,735.8L379.30,719.7L379.85,691.5L380.40,715.6L380.95,679.3L381.50,731.7L382.05,707.6L382.60,683.5L383.15,679.3L383.70,727.7L384.25,691.5L384.80,679.3L385.35,687.5L385.90,679.5L386.45,691.5L387.00,691.5L387.55,707.6L388.10,715.7L388.65,679.3L389.20,695.6L389.75,679.3L390.30,683.5L390.85,707.7L391.40,743.9L391.95,691.6L392.50,719.8L393.05,691.6L393.60,703.7L394.15,731.8L394.70,707.7L395.25,723.8L395.80,731.8L396.35,727.8L396.90,748.0L397.45,719.8L398.00,727.8L398.55,735.9L399.10,731.9L399.65,756.0L400.20,752.0L400.75,756.0L401.30,768.1L401.85,731.9L402.40,748.0L402.95,760.1L403.50,752.0L404.05,756.1L404.60,756.1L405.15,780.2L405.70,756.1L406.25,756.1L406.80,760.1L407.35,780.2L407.90,788.3L408.45,760.1L409.00,776.2L409.55,788.3L410.10,776.2L410.65,800.4L411.20,800.4L411.75,768.2L412.30,776.2L412.85,776.2L413.40,792.3L413.95,804.4L414.50,792.3L415.05,784.3L415.60,776.3L416.15,796.4L416.70,808.5L417.25,796.4L417.80,800.4L418.35,796.4L418.90,796.4L419.45,800.4L420.00,800.4L420.55,788.4L421.10,808.5L421.65,792.4L422.20,812.5L422.75,808.5L423.30,808.5L423.85,812.5L424.40,800.5L424.95,804.5L425.50,800.5L426.05,816.6L426.60,804.5L427.15,816.6L427.70,808.5L428.25,816.6L428.80,820.6L429.35,820.6L429.90,816.6L430.45,816.6L431.00,820.6L431.55,816.6L432.10,820.6L432.65,816.6L433.20,816.6L433.75,816.6L434.30,812.6L434.85,820.7L435.40,820.7L435.95,816.6L436.50,812.6L437.05,820.7L437.60,812.6L438.15,816.7L438.70,820.7L439.25,820.7L439.80,816.7L440.35,820.7L440.90,820.7L441.45,816.7L442.00,820.7L442.55,816.7L443.10,820.7L443.65,816.7L444.20,820.7L444.75,820.7L445.30,816.7L445.85,820.7L446.40,820.7L446.95,820.7L447.50,820.7L448.05,820.7L448.60,820.7L449.15,820.8L449.70,820.8L450.25,820.8L450.80,820.8L451.35,820.8L451.90,816.7L452.45,816.8L453.00,820.8L453.55,820.8L454.10,820.8L454.65,820.8L455.20,820.8L455.75,816.8L456.30,820.8L456.85,820.8L457.40,820.8L457.95,820.8L458.50,820.8L459.05,820.8L459.60,820.8L460.15,820.8L460.70,820.8L461.25,820.8L461.80,820.8L462.35,820.8L462.90,820.9L463.45,820.9L464.00,820.9L464.55,820.9L465.10,820.9L465.65,820.9L466.20,820.9L466.75,820.9L467.30,820.9L467.85,820.9L468.40,820.9L468.95,820.9L469.50,820.9L470.05,820.9L470.60,820.9L471.15,820.9L471.70,820.9L472.25,820.9L472.80,820.9L473.35,820.9L473.90,820.9L474.45,820.9L475.00,820.9" stroke="#000" stroke-width="0.4" opacity="1"/>
</g>
<g id="ticks" font-family='"Liberation Sans", Arial, Helvetica, sans-serif' font-weight="bold" fill="#111" stroke="#111" stroke-width="0.22">
<text x="98.3" y="202.7" font-size="4.7" text-anchor="middle" opacity="1">.1</text>
<text x="137.9" y="202.7" font-size="4.7" text-anchor="middle" opacity="1">1</text>
<text x="181" y="202.7" font-size="4.7" text-anchor="middle" opacity="1">10</text>
<text x="223.7" y="202.7" font-size="4.7" text-anchor="middle" opacity="1">100</text>
<text x="258.1" y="202.7" font-size="4.7" text-anchor="middle" opacity="1">1000</text>
<text x="97.0" y="408.3" font-size="4.7" text-anchor="middle" opacity="0.55">.1</text>
<text x="137" y="408.3" font-size="4.7" text-anchor="middle" opacity="0.55">1</text>
<text x="180" y="408.3" font-size="4.7" text-anchor="middle" opacity="0.55">10</text>
<text x="222.5" y="408.3" font-size="4.7" text-anchor="middle" opacity="0.55">100</text>
<text x="257" y="408.3" font-size="4.7" text-anchor="middle" opacity="0.55">1000</text>
<text x="98.6" y="616.2" font-size="4.7" text-anchor="middle" opacity="1">.1</text>
<text x="137.5" y="616.2" font-size="4.7" text-anchor="middle" opacity="1">1</text>
<text x="179.5" y="616.2" font-size="4.7" text-anchor="middle" opacity="1">10</text>
<text x="222" y="616.2" font-size="4.7" text-anchor="middle" opacity="1">100</text>
<text x="259" y="616.2" font-size="4.7" text-anchor="middle" opacity="1">1000</text>
<text x="346" y="616.5" font-size="4.7" text-anchor="middle" opacity="1">.1</text>
<text x="385" y="616.5" font-size="4.7" text-anchor="middle" opacity="1">1</text>
<text x="427" y="616.5" font-size="4.7" text-anchor="middle" opacity="1">10</text>
<text x="467.5" y="616.5" font-size="4.7" text-anchor="middle" opacity="1">100</text>
<text x="506" y="616.5" font-size="4.7" text-anchor="middle" opacity="1">1000</text>
<text x="99.5" y="828.3" font-size="4.7" text-anchor="middle" opacity="1">.1</text>
<text x="139.6" y="828.3" font-size="4.7" text-anchor="middle" opacity="1">1</text>
<text x="180.4" y="828.3" font-size="4.7" text-anchor="middle" opacity="1">10</text>
<text x="223" y="828.3" font-size="4.7" text-anchor="middle" opacity="1">100</text>
<text x="260.5" y="828.3" font-size="4.7" text-anchor="middle" opacity="1">1000</text>
<text x="345.5" y="827.3" font-size="4.7" text-anchor="middle" opacity="1">.1</text>
<text x="384.5" y="827.3" font-size="4.7" text-anchor="middle" opacity="1">1</text>
<text x="427.5" y="827.3" font-size="4.7" text-anchor="middle" opacity="1">10</text>
<text x="469.2" y="827.3" font-size="4.7" text-anchor="middle" opacity="1">100</text>
<text x="506.2" y="827.3" font-size="4.7" text-anchor="middle" opacity="1">1000</text>
<text transform="translate(94.0,31.7) rotate(-90)" font-size="4.3" text-anchor="middle">71</text>
<text transform="translate(94.0,71) rotate(-90)" font-size="4.3" text-anchor="middle">53</text>
<text transform="translate(94.0,112.5) rotate(-90)" font-size="4.3" text-anchor="middle">35</text>
<text transform="translate(94.0,154) rotate(-90)" font-size="4.3" text-anchor="middle">17</text>
<text transform="translate(94.0,193.5) rotate(-90)" font-size="4.3" text-anchor="middle">0</text>
<text transform="translate(335.3,30) rotate(-90)" font-size="4.3" text-anchor="middle">64</text>
<text transform="translate(335.3,69) rotate(-90)" font-size="4.3" text-anchor="middle">48</text>
<text transform="translate(335.3,111.5) rotate(-90)" font-size="4.3" text-anchor="middle">32</text>
<text transform="translate(335.3,154) rotate(-90)" font-size="4.3" text-anchor="middle">16</text>
<text transform="translate(335.3,193.5) rotate(-90)" font-size="4.3" text-anchor="middle">0</text>
<text transform="translate(93.0,237) rotate(-90)" font-size="4.3" text-anchor="middle">55</text>
<text transform="translate(93.0,277) rotate(-90)" font-size="4.3" text-anchor="middle">41</text>
<text transform="translate(93.0,318) rotate(-90)" font-size="4.3" text-anchor="middle">21</text>
<text transform="translate(93.0,360.7) rotate(-90)" font-size="4.3" text-anchor="middle">11</text>
<text transform="translate(93.0,400) rotate(-90)" font-size="4.3" text-anchor="middle">0</text>
<text transform="translate(334.5,234) rotate(-90)" font-size="4.3" text-anchor="middle">45</text>
<text transform="translate(334.5,273) rotate(-90)" font-size="4.3" text-anchor="middle">33</text>
<text transform="translate(334.5,314.8) rotate(-90)" font-size="4.3" text-anchor="middle">22</text>
<text transform="translate(334.5,357) rotate(-90)" font-size="4.3" text-anchor="middle">11</text>
<text transform="translate(334.5,397.5) rotate(-90)" font-size="4.3" text-anchor="middle">0</text>
<text transform="translate(94.0,443.5) rotate(-90)" font-size="4.3" text-anchor="middle">32</text>
<text transform="translate(94.0,482.8) rotate(-90)" font-size="4.3" text-anchor="middle">24</text>
<text transform="translate(94.0,525) rotate(-90)" font-size="4.3" text-anchor="middle">16</text>
<text transform="translate(94.0,567.4) rotate(-90)" font-size="4.3" text-anchor="middle">8</text>
<text transform="translate(94.0,606.5) rotate(-90)" font-size="4.3" text-anchor="middle">0</text>
<text transform="translate(341.5,444) rotate(-90)" font-size="4.3" text-anchor="middle">28</text>
<text transform="translate(341.5,483) rotate(-90)" font-size="4.3" text-anchor="middle">17</text>
<text transform="translate(341.5,525) rotate(-90)" font-size="4.3" text-anchor="middle">11</text>
<text transform="translate(341.5,567.5) rotate(-90)" font-size="4.3" text-anchor="middle">5</text>
<text transform="translate(341.5,607) rotate(-90)" font-size="4.3" text-anchor="middle">0</text>
<text transform="translate(96.0,655.6) rotate(-90)" font-size="4.3" text-anchor="middle">21</text>
<text transform="translate(96.0,694.3) rotate(-90)" font-size="4.3" text-anchor="middle">15</text>
<text transform="translate(96.0,737) rotate(-90)" font-size="4.3" text-anchor="middle">10</text>
<text transform="translate(96.0,779) rotate(-90)" font-size="4.3" text-anchor="middle">5</text>
<text transform="translate(96.0,819) rotate(-90)" font-size="4.3" text-anchor="middle">0</text>
<text transform="translate(341.3,654) rotate(-90)" font-size="4.3" text-anchor="middle">42</text>
<text transform="translate(341.3,693.2) rotate(-90)" font-size="4.3" text-anchor="middle">31</text>
<text transform="translate(341.3,735.6) rotate(-90)" font-size="4.3" text-anchor="middle">21</text>
<text transform="translate(341.3,776.8) rotate(-90)" font-size="4.3" text-anchor="middle">10</text>
<text transform="translate(341.3,818) rotate(-90)" font-size="4.3" text-anchor="middle">0</text>
</g>
<g id="sp" font-family='"Liberation Mono", "DejaVu Sans Mono", monospace' font-weight="bold" fill="#1a1a1a" stroke="#111" stroke-width="0.28" font-size="4.8">
<text x="96.2" y="439.1" textLength="46.2" lengthAdjust="spacingAndGlyphs" opacity="1">SINGLE PARAMETER</text>
<text x="343.8" y="439.8" textLength="46" lengthAdjust="spacingAndGlyphs" opacity="1">SINGLE PARAMETER</text>
<text x="97.7" y="650.9" textLength="46.3" lengthAdjust="spacingAndGlyphs" opacity="1">SINGLE PARAMETER</text>
<text x="343.5" y="649.8" textLength="46.3" lengthAdjust="spacingAndGlyphs" opacity="1">SINGLE PARAMETER</text>
<clipPath id="c2"><rect x="336" y="23.4" width="60" height="3"/></clipPath>
<clipPath id="c3"><rect x="94" y="231.2" width="60" height="2.6"/></clipPath>
<text x="338" y="25.6" textLength="45.5" lengthAdjust="spacingAndGlyphs" opacity="0.75" clip-path="url(#c2)">SINGLE PARAMETER</text>
<text x="96.5" y="233.2" textLength="45.5" lengthAdjust="spacingAndGlyphs" opacity="0.55" clip-path="url(#c3)">SINGLE PARAMETER</text>
</g>
<g id="titles" font-family='"Liberation Sans", Arial, Helvetica, sans-serif' font-weight="bold" fill="#050505" stroke="#050505" stroke-width="0.45">
<text transform="translate(87.9,18.9) scale(1,1.0)" font-size="19.45">ARH-77</text>
<text transform="translate(174.8,18.9) scale(1,1.0)" font-size="19.45">(MM)</text>
<text transform="translate(333.4,16.3) scale(1,1.0)" font-size="19.45">OCI-My5</text>
<text transform="translate(419.3,16.3) scale(1,1.0)" font-size="19.45">(MM)</text>
<text transform="translate(89.5,227.0) scale(1,1.0)" font-size="19.45">RPMI</text>
<text transform="translate(151.3,227.0) scale(1,1.0)" font-size="19.45">8226</text>
<text transform="translate(208.3,227.0) scale(1,1.0)" font-size="19.45">(MM)</text>
<text transform="translate(334.2,225.7) scale(1,1.0)" font-size="19.45">S6B45</text>
<text transform="translate(409.1,225.7) scale(1,1.0)" font-size="19.45">(MM)</text>
<text transform="translate(89.1,428.2) scale(1,1.0)" font-size="19.45">MCF.7</text>
<text transform="translate(160.3,428.2) scale(1,1.0)" font-size="19.45">(Breast</text>
<text transform="translate(239.1,428.2) scale(1,1.0)" font-size="19.45">CA)</text>
<text transform="translate(335.7,425.9) scale(1,1.0)" font-size="19.45">ZR-75</text>
<text transform="translate(402.1,425.9) scale(1,1.0)" font-size="19.45">(Breast</text>
<text transform="translate(483.5,425.9) scale(1,1.0)" font-size="19.45">CA)</text>
<text transform="translate(90.8,638.1) scale(1,1.0)" font-size="19.45">OVC.3</text>
<text transform="translate(161.8,638.1) scale(1,1.0)" font-size="19.45">(Ovarian</text>
<text transform="translate(253.6,638.1) scale(1,1.0)" font-size="19.45">CA)</text>
<text transform="translate(336.9,636.6) scale(1,1.0)" font-size="19.45">36M</text>
<text transform="translate(385.8,636.6) scale(1,1.0)" font-size="19.45">(Ovarian</text>
<text transform="translate(478.3,636.6) scale(1,1.0)" font-size="19.45">CA)</text>
<text transform="translate(241.0,871.3) scale(1,1.0)" font-size="16.3" textLength="29.6" lengthAdjust="spacingAndGlyphs">Log</text>
<text transform="translate(284.5,871.3) scale(1,1.0)" font-size="16.3" textLength="112.8" lengthAdjust="spacingAndGlyphs">Fluorescence</text>
<g transform="translate(13.6,0) rotate(-90)" stroke-width="0.3">
<text transform="translate(-460.9,0.0) scale(1,1.0)" font-size="15.6" textLength="68.1" lengthAdjust="spacingAndGlyphs">Relative</text>
<text transform="translate(-382.2,0.0) scale(1,1.0)" font-size="15.6" textLength="32.6" lengthAdjust="spacingAndGlyphs">Cell</text>
<text transform="translate(-337.3,0.0) scale(1,1.0)" font-size="15.6" textLength="63.3" lengthAdjust="spacingAndGlyphs">Number</text>
</g>
</g>
</svg>
</body></html>
